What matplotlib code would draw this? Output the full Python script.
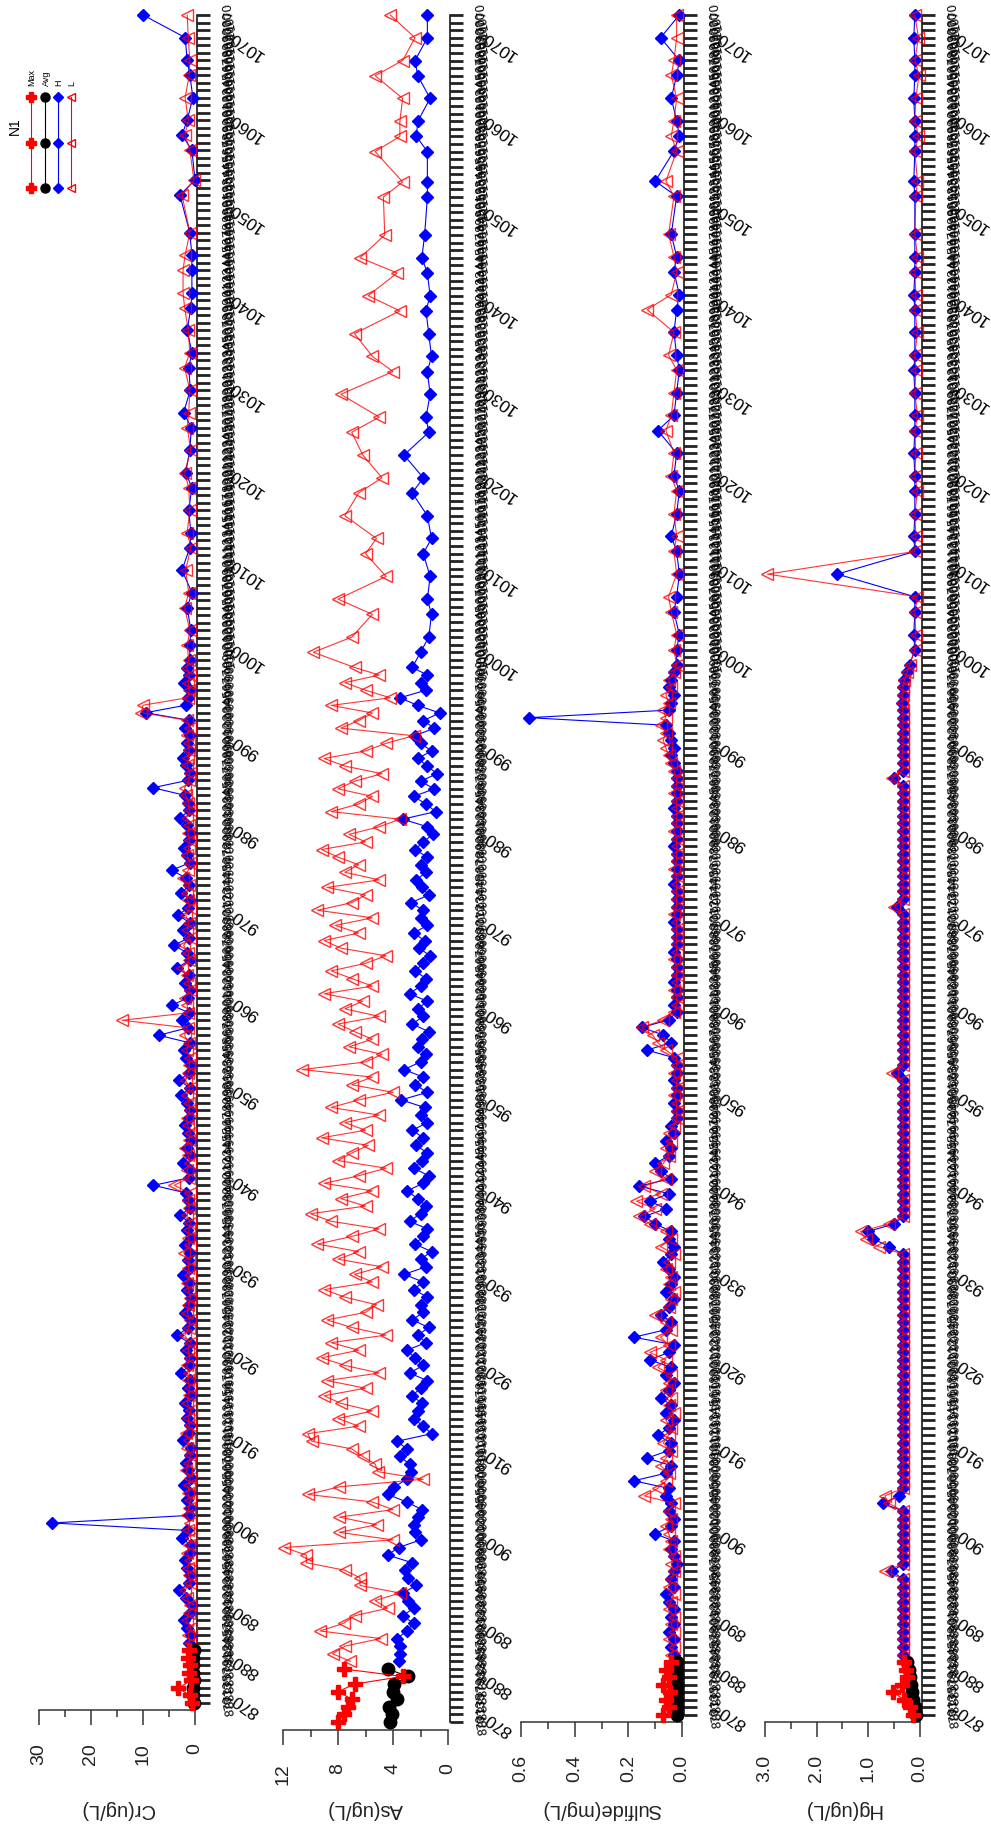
import numpy as np
import matplotlib.pyplot as plt

plt.rcParams['font.family'] = ['Liberation Sans', 'DejaVu Sans']

W, H = 991, 1843
N_TICKS = 226

# sample positions on the tick axis (one tick per sample slot)
first_idx = [0, 1, 2, 3, 4, 5, 6, 7]
dense_idx = list(range(8, 140))
sparse_idx = [141, 143, 146, 148, 151, 154, 156, 159, 162, 164, 167, 170, 172, 175, 178, 180,
              183, 186, 188, 191, 193, 196, 201, 203, 207, 209, 211, 214, 217, 219, 222, 225]
idx = dense_idx + sparse_idx

# ---- Cr (ug/L)
cr_max = [0.6, 1.0, 3.2, 0.8, 1.2, 0.9, 1.4, 1.1]
cr_avg = [0.2, 0.3, 0.3, 0.2, 0.4, 0.3, 0.3, 0.2]
cr_h = [1.2, 0.8, 1.5, 2.2, 1.0, 0.6, 1.8, 3.0, 1.2, 0.9, 1.5, 2.0,
        1.0, 0.8, 2.5, 1.5, 27.5, 1.2, 0.9, 1.6, 1.0, 2.2, 0.8, 1.3,
        1.8, 1.0, 0.7, 2.4, 1.2, 0.9, 1.5, 1.1, 2.0, 0.8, 1.4, 1.0,
        2.6, 1.2, 0.9, 1.7, 1.0, 3.5, 1.3, 0.8, 1.9, 1.1, 0.7, 1.6,
        1.2, 2.3, 0.9, 1.4, 1.0, 2.0, 0.8, 1.5, 1.1, 2.8, 1.0, 1.3,
        1.8, 8.0, 1.2, 0.9, 2.4, 1.0, 1.6, 0.8, 1.3, 2.0, 1.1, 0.9,
        1.5, 2.6, 1.0, 3.0, 1.2, 0.8, 1.7, 2.2, 1.0, 7.0, 1.4, 2.5,
        1.1, 4.5, 1.3, 0.9, 2.0, 1.2, 3.5, 1.0, 1.6, 4.0, 1.2, 2.4,
        1.0, 3.2, 1.4, 0.9, 2.6, 1.1, 1.8, 4.5, 1.0, 1.5, 2.2, 1.2,
        0.9, 1.6, 2.8, 1.1, 1.4, 2.0, 8.1, 1.3, 1.0, 1.8, 2.4, 1.2,
        1.5, 1.0, 2.0, 1.2, 9.5, 1.8, 1.3, 0.9, 2.2, 1.1, 1.6, 1.0,
        1.0, 0.8, 1.5, 0.6, 2.5, 1.0, 0.8, 1.2, 0.6, 1.8, 1.0, 0.7, 2.2, 0.9, 1.2, 0.6,
        1.5, 0.8, 0.6, 0.6, 0.6, 1.0, 2.9, 0.0, 0.6, 2.5, 1.5, 0.4, 1.0, 1.5, 1.9, 10.0]
cr_l = [1.0, 1.3, 0.8, 1.6, 1.2, 1.0, 1.5, 2.0, 0.9, 1.2, 1.4, 1.0,
        1.5, 1.1, 0.8, 1.3, 1.0, 1.6, 1.2, 0.9, 1.4, 1.1, 1.0, 1.7,
        1.2, 0.9, 1.5, 1.1, 1.8, 1.0, 1.3, 0.8, 1.5, 1.2, 1.0, 1.4,
        1.1, 1.6, 1.0, 1.3, 0.9, 2.0, 1.2, 1.0, 1.5, 1.3, 0.9, 1.2,
        1.6, 1.0, 1.3, 1.1, 2.2, 1.0, 1.4, 1.2, 0.9, 1.5, 1.1, 1.3,
        1.0, 4.0, 1.2, 1.5, 1.0, 1.3, 2.0, 1.1, 0.9, 1.4, 1.6, 1.0,
        1.2, 1.5, 1.0, 1.8, 1.3, 1.1, 1.0, 1.6, 1.2, 2.0, 1.4, 14.0,
        1.3, 1.5, 2.0, 1.0, 1.2, 1.6, 2.5, 1.1, 1.3, 2.2, 1.0, 1.5,
        1.2, 1.8, 1.0, 1.4, 1.6, 1.1, 2.4, 1.3, 1.0, 1.5, 1.2, 1.0,
        1.4, 1.1, 1.6, 1.0, 1.3, 1.8, 2.0, 1.2, 1.0, 1.5, 1.3, 1.1,
        1.2, 1.6, 1.0, 1.5, 10.3, 10.0, 1.4, 1.1, 1.3, 1.0, 1.6, 1.2,
        1.5, 1.0, 2.0, 1.2, 1.8, 0.8, 1.5, 1.0, 1.2, 2.0, 0.8, 1.5, 1.2, 1.0, 2.0, 1.0,
        1.3, 2.0, 2.3, 2.3, 1.9, 1.0, 2.5, 0.2, 1.0, 1.9, 1.3, 1.9, 1.1, 1.0, 1.3, 1.5]

# ---- As (ug/L)
as_max = [8.0, 7.6, 7.3, 7.0, 8.0, 6.8, 3.3, 7.6]
as_avg = [4.2, 4.1, 4.3, 3.7, 4.0, 3.9, 2.9, 4.4]
as_h = [3.6, 3.5, 3.5, 3.7, 3.0, 2.5, 3.3, 2.5, 2.9, 3.3, 2.3, 2.9,
        3.1, 2.6, 4.4, 3.6, 2.0, 2.4, 2.5, 2.2, 1.9, 3.0, 4.4, 3.9,
        3.0, 2.7, 2.8, 3.5, 3.0, 3.7, 1.2, 1.8, 2.5, 2.2, 1.9, 2.6,
        2.0, 1.5, 2.8, 1.8, 2.4, 3.0, 1.6, 2.2, 1.4, 2.6, 1.8, 2.0,
        1.5, 2.5, 1.8, 3.2, 1.6, 2.0, 1.2, 2.4, 1.8, 1.5, 2.8, 2.0,
        1.6, 2.2, 3.0, 1.8, 1.4, 2.5, 1.9, 1.5, 2.3, 1.8, 2.6, 1.5,
        2.0, 1.7, 3.4, 1.5, 2.4, 1.8, 3.2, 2.0, 1.6, 2.2, 1.9, 1.4,
        2.6, 1.8, 2.2, 1.5, 2.8, 2.0, 1.6, 2.4, 1.8, 1.3, 2.1, 1.7,
        2.5, 1.5, 2.0, 1.8, 2.7, 1.4, 1.9, 2.3, 1.6, 2.0, 1.5, 2.4,
        1.8, 1.1, 1.5, 3.3, 0.9, 1.6, 2.5, 1.0, 2.0, 0.8, 1.5, 2.2,
        1.2, 2.0, 2.4, 1.0, 1.8, 0.6, 2.2, 3.5, 1.6, 2.0, 1.5, 2.6,
        2.0, 1.4, 1.2, 1.5, 1.3, 1.8, 1.2, 1.5, 2.6, 1.8, 3.2, 1.4, 1.6, 1.3, 1.5, 1.2,
        1.4, 1.6, 1.3, 1.5, 1.9, 1.7, 1.5, 1.5, 1.5, 2.3, 2.2, 1.3, 2.2, 2.4, 1.5, 1.5]
as_l = [7.1, 8.4, 7.5, 4.9, 9.3, 7.6, 6.8, 4.4, 5.3, 3.5, 6.4, 6.4,
        7.5, 10.3, 10.3, 11.9, 4.0, 7.9, 5.2, 7.9, 4.0, 5.5, 10.2, 7.9,
        1.8, 5.1, 5.3, 6.2, 7.0, 9.9, 10.2, 6.5, 8.0, 5.5, 7.8, 9.0,
        6.0, 8.8, 5.0, 7.5, 9.2, 6.5, 8.5, 4.5, 7.0, 8.8, 6.0, 5.2,
        7.5, 9.0, 5.5, 6.8, 4.8, 8.0, 6.5, 9.5, 7.0, 5.0, 8.5, 10.0,
        6.0, 7.8, 5.5, 9.0, 6.5, 4.5, 8.0, 7.0, 5.8, 9.2, 6.0, 7.5,
        5.0, 8.5, 6.5, 4.0, 7.0, 5.5, 10.6, 6.0, 4.8, 7.2, 5.5, 6.8,
        8.0, 5.0, 7.5, 6.2, 9.0, 5.5, 7.0, 8.5, 6.0, 4.5, 7.8, 9.0,
        6.5, 8.2, 5.5, 9.5, 7.0, 6.0, 8.8, 5.0, 7.5, 6.5, 8.0, 9.2,
        6.0, 7.2, 5.0, 3.5, 8.5, 6.5, 5.5, 8.0, 6.8, 4.8, 7.5, 9.0,
        6.0, 4.5, 2.5, 7.8, 6.5, 5.5, 8.5, 4.2, 6.0, 7.5, 5.0, 6.8,
        9.8, 7.0, 5.5, 8.0, 4.5, 6.0, 5.2, 7.5, 6.5, 4.8, 6.2, 7.0, 5.0, 7.8, 4.0, 5.5,
        6.8, 3.5, 5.8, 3.7, 6.4, 4.6, 4.7, 3.3, 5.3, 3.5, 3.5, 3.3, 5.3, 3.3, 2.4, 4.2]

# ---- Sulfide (mg/L)
su_max = [0.07, 0.05, 0.06, 0.045, 0.07, 0.05, 0.06, 0.04]
su_avg = [0.02, 0.02, 0.02, 0.02, 0.02, 0.02, 0.02, 0.02]
su_h = [0.03, 0.04, 0.03, 0.05, 0.03, 0.04, 0.03, 0.05, 0.06, 0.03, 0.04, 0.03,
        0.02, 0.03, 0.04, 0.03, 0.10, 0.04, 0.03, 0.05, 0.04, 0.06, 0.05, 0.18,
        0.06, 0.04, 0.13, 0.05, 0.04, 0.09, 0.05, 0.03, 0.06, 0.04, 0.08, 0.05,
        0.03, 0.06, 0.04, 0.12, 0.05, 0.03, 0.18, 0.06, 0.04, 0.08, 0.05, 0.03,
        0.06, 0.04, 0.03, 0.05, 0.07, 0.04, 0.03, 0.05, 0.04, 0.10, 0.14, 0.06,
        0.12, 0.05, 0.16, 0.04, 0.08, 0.10, 0.05, 0.04, 0.06, 0.03, 0.04, 0.02,
        0.02, 0.03, 0.02, 0.02, 0.03, 0.02, 0.02, 0.03, 0.13, 0.04, 0.07, 0.15,
        0.05, 0.02, 0.03, 0.02, 0.02, 0.03, 0.02, 0.02, 0.02, 0.03, 0.02, 0.02,
        0.02, 0.03, 0.02, 0.02, 0.02, 0.02, 0.03, 0.02, 0.02, 0.02, 0.02, 0.03,
        0.02, 0.02, 0.02, 0.02, 0.03, 0.02, 0.02, 0.02, 0.02, 0.02, 0.03, 0.04,
        0.03, 0.04, 0.05, 0.06, 0.57, 0.05, 0.04, 0.03, 0.05, 0.04, 0.03, 0.02,
        0.02, 0.01, 0.03, 0.02, 0.01, 0.02, 0.04, 0.02, 0.01, 0.03, 0.02, 0.09, 0.03, 0.02, 0.01, 0.02,
        0.03, 0.02, 0.01, 0.03, 0.02, 0.04, 0.02, 0.10, 0.03, 0.01, 0.02, 0.04, 0.02, 0.01, 0.08, 0.01]
su_l = [0.04, 0.03, 0.05, 0.03, 0.04, 0.03, 0.05, 0.04, 0.03, 0.05, 0.04, 0.03,
        0.04, 0.03, 0.05, 0.04, 0.05, 0.06, 0.04, 0.05, 0.03, 0.14, 0.09, 0.06,
        0.05, 0.08, 0.06, 0.04, 0.07, 0.05, 0.04, 0.06, 0.03, 0.05, 0.04, 0.06,
        0.05, 0.04, 0.09, 0.06, 0.12, 0.05, 0.08, 0.04, 0.06, 0.10, 0.05, 0.04,
        0.03, 0.05, 0.04, 0.06, 0.05, 0.03, 0.08, 0.04, 0.06, 0.12, 0.16, 0.10,
        0.17, 0.08, 0.14, 0.06, 0.10, 0.07, 0.05, 0.06, 0.04, 0.05, 0.03, 0.02,
        0.02, 0.02, 0.03, 0.02, 0.02, 0.03, 0.02, 0.02, 0.06, 0.09, 0.11, 0.15,
        0.07, 0.03, 0.02, 0.02, 0.03, 0.02, 0.02, 0.02, 0.03, 0.02, 0.02, 0.02,
        0.02, 0.02, 0.03, 0.02, 0.02, 0.02, 0.02, 0.02, 0.03, 0.02, 0.02, 0.02,
        0.02, 0.03, 0.02, 0.02, 0.02, 0.02, 0.03, 0.02, 0.02, 0.03, 0.04, 0.05,
        0.06, 0.07, 0.06, 0.08, 0.06, 0.07, 0.05, 0.06, 0.04, 0.05, 0.03, 0.02,
        0.03, 0.02, 0.04, 0.05, 0.02, 0.03, 0.02, 0.03, 0.02, 0.04, 0.03, 0.06, 0.04, 0.03, 0.02, 0.05,
        0.03, 0.13, 0.04, 0.02, 0.03, 0.05, 0.03, 0.06, 0.02, 0.04, 0.03, 0.02, 0.04, 0.03, 0.02, 0.02]

# ---- Hg (ug/L)
hg_max = [0.13, 0.2, 0.3, 0.52, 0.35, 0.25, 0.28, 0.3]
hg_avg = [0.08, 0.1, 0.13, 0.15, 0.18, 0.2, 0.22, 0.25]
hg_h = [0.33, 0.33, 0.33, 0.33, 0.33, 0.33, 0.33, 0.33, 0.33, 0.33, 0.33, 0.54,
        0.33, 0.33, 0.33, 0.33, 0.33, 0.33, 0.33, 0.33, 0.72, 0.40, 0.33, 0.33,
        0.33, 0.33, 0.33, 0.33, 0.33, 0.33, 0.33, 0.33, 0.33, 0.33, 0.33, 0.33,
        0.33, 0.33, 0.33, 0.33, 0.33, 0.33, 0.33, 0.33, 0.33, 0.33, 0.33, 0.33,
        0.33, 0.33, 0.33, 0.33, 0.33, 0.33, 0.60, 0.90, 1.00, 0.50, 0.33, 0.33,
        0.33, 0.33, 0.33, 0.33, 0.33, 0.33, 0.33, 0.33, 0.33, 0.33, 0.33, 0.33,
        0.33, 0.33, 0.33, 0.33, 0.33, 0.45, 0.33, 0.33, 0.33, 0.33, 0.33, 0.33,
        0.33, 0.33, 0.33, 0.33, 0.33, 0.33, 0.33, 0.33, 0.33, 0.33, 0.33, 0.33,
        0.33, 0.33, 0.33, 0.45, 0.33, 0.33, 0.33, 0.33, 0.33, 0.33, 0.33, 0.33,
        0.33, 0.33, 0.33, 0.33, 0.33, 0.33, 0.33, 0.33, 0.50, 0.33, 0.33, 0.33,
        0.33, 0.33, 0.33, 0.33, 0.33, 0.33, 0.35, 0.33, 0.33, 0.30, 0.25, 0.20,
        0.10, 0.12, 0.10, 0.10, 1.60, 0.10, 0.12, 0.10, 0.10, 0.10, 0.12, 0.10, 0.10, 0.10, 0.12, 0.10,
        0.10, 0.10, 0.12, 0.10, 0.10, 0.10, 0.10, 0.12, 0.10, 0.10, 0.10, 0.12, 0.10, 0.10, 0.12, 0.10]
hg_l = [0.33, 0.33, 0.33, 0.33, 0.33, 0.33, 0.33, 0.33, 0.33, 0.33, 0.33, 0.68,
        0.33, 0.33, 0.33, 0.33, 0.33, 0.33, 0.33, 0.33, 0.60, 0.68, 0.33, 0.33,
        0.33, 0.33, 0.33, 0.33, 0.33, 0.33, 0.33, 0.33, 0.33, 0.33, 0.33, 0.33,
        0.33, 0.33, 0.33, 0.33, 0.33, 0.33, 0.33, 0.33, 0.33, 0.33, 0.33, 0.33,
        0.33, 0.33, 0.33, 0.33, 0.33, 0.33, 0.80, 1.05, 1.15, 0.60, 0.33, 0.33,
        0.33, 0.33, 0.33, 0.33, 0.33, 0.33, 0.33, 0.33, 0.33, 0.33, 0.33, 0.33,
        0.33, 0.33, 0.33, 0.33, 0.33, 0.55, 0.33, 0.33, 0.33, 0.33, 0.33, 0.33,
        0.33, 0.33, 0.33, 0.33, 0.33, 0.33, 0.33, 0.33, 0.33, 0.33, 0.33, 0.33,
        0.33, 0.33, 0.33, 0.50, 0.33, 0.33, 0.33, 0.33, 0.33, 0.33, 0.33, 0.33,
        0.33, 0.33, 0.33, 0.33, 0.33, 0.33, 0.33, 0.33, 0.55, 0.33, 0.33, 0.33,
        0.33, 0.33, 0.33, 0.33, 0.33, 0.33, 0.35, 0.33, 0.33, 0.30, 0.25, 0.20,
        0.10, 0.08, 0.10, 0.05, 2.95, 0.10, 0.08, 0.10, 0.05, 0.10, 0.08, 0.10, 0.05, 0.10, 0.08, 0.10,
        0.05, 0.10, 0.08, 0.10, 0.05, 0.10, 0.08, 0.05, 0.10, 0.03, 0.10, 0.08, 0.02, 0.10, 0.03, 0.10]

# readable labels on the sample axis, at their tick positions
major_pos = [0.4, 5.5, 12.2, 23.8, 35.1, 46.3, 57.9, 69.5, 81.7, 93.3, 104.9, 116.5, 128.0,
             140.2, 151.3, 163.4, 175.0, 186.6, 198.7, 210.7, 221.6]
major_lab = ['870', '880', '890', '900', '910', '920', '930', '940', '950', '960', '970',
             '980', '990', '1000', '1010', '1020', '1030', '1040', '1050', '1060', '1070']

panels = [
    # y label, zero px, px per unit, vmax, ticks, labelled ticks, fmt, axis y px, first tick y px
    ('Cr(ug/L)', 195, 5.2, 30, [0, 5, 10, 15, 20, 25, 30], [0, 10, 20, 30], '{:.0f}', 1710, 1703,
     cr_max, cr_avg, cr_h, cr_l),
    ('As(ug/L)', 448, 13.75, 12, [0, 2, 4, 6, 8, 10, 12], [0, 4, 8, 12], '{:.0f}', 1730, 1722,
     as_max, as_avg, as_h, as_l),
    ('Sulfide(mg/L)', 682, 268.0, 0.6, [0, 0.1, 0.2, 0.3, 0.4, 0.5, 0.6], [0, 0.2, 0.4, 0.6],
     '{:.1f}', 1722, 1715, su_max, su_avg, su_h, su_l),
    ('Hg(ug/L)', 920, 51.7, 3.0, [0, 0.5, 1.0, 1.5, 2.0, 2.5, 3.0], [0, 1, 2, 3], '{:.1f}', 1722, 1715,
     hg_max, hg_avg, hg_h, hg_l),
]

fig = plt.figure(figsize=(W / 100, H / 100), dpi=100)
top_y = 15
tick_lab = [str(int(round(v))) for v in np.interp(np.arange(N_TICKS), major_pos,
                                                   [int(s) for s in major_lab])]

for ylab, x0, sc, vmax, ticks, labticks, fmt, axis_y, y0, vmx, vav, vh, vl in panels:
    left_px = x0 - vmax * sc - 6
    right_px = x0 + 2
    top_px = 8
    ax = fig.add_axes([left_px / W, 1 - axis_y / H, (right_px - left_px) / W, (axis_y - top_px) / H])
    step = (y0 - top_y) / (N_TICKS - 1)
    ax.set_ylim(-(axis_y - y0) / step, N_TICKS - 1 + (top_y - top_px) / step)
    ax.set_xlim((x0 - left_px) / sc, -(right_px - x0) / sc)
    ax.patch.set_alpha(0)

    ax.plot(vh, idx, color='#0000ff', lw=0.8, marker='D', ms=6.5, mfc='#0000ff', mec='#0000ff',
            mew=1.0, clip_on=False, zorder=3)
    ax.plot(vl, idx, color='#ff0000', lw=0.8, marker='<', ms=8.5, mfc='none', mec='#ff0000',
            mew=1.0, alpha=0.8, clip_on=False, zorder=4)
    ax.plot(vav, first_idx, color='black', lw=0.8, marker='o', ms=9, clip_on=False, zorder=5)
    ax.plot(vmx, first_idx, color='#ff0000', lw=0.8, marker='P', ms=10, mec='#ff0000',
            clip_on=False, zorder=6)

    for s in ['top', 'left']:
        ax.spines[s].set_visible(False)
    ax.spines['bottom'].set_bounds(0, vmax)
    ax.spines['right'].set_bounds(0, N_TICKS - 1)
    ax.spines['bottom'].set_linewidth(1.1)
    ax.spines['bottom'].set_color('#333333')
    ax.spines['right'].set_linewidth(1.1)

    ax.set_xticks(ticks)
    ax.set_xticklabels([])
    ax.tick_params(axis='x', direction='out', width=1.1, color='#333333', length=5)
    for t, tk in zip(ticks, ax.xaxis.get_major_ticks()):
        if t in labticks:
            tk.tick1line.set_markersize(10.5)
    for t in labticks:
        fig.text((x0 - t * sc) / W, 1 - (axis_y + 33) / H, fmt.format(t), rotation=90,
                 fontsize=14, ha='center', va='top', color='#222222')
    fig.text((x0 - vmax * sc / 2) / W, 1 - 1809 / H, ylab, rotation=180, fontsize=14.5,
             ha='center', va='center', color='#222222')

    ax.yaxis.tick_right()
    ax.set_yticks(np.arange(N_TICKS))
    ax.set_yticklabels([])
    ax.tick_params(axis='y', direction='out', length=9.5, width=2.0, color='#222222')

    # crowded per-sample labels, then the readable ones
    for i, lab in enumerate(tick_lab):
        ax.annotate(lab, xy=(1, i), xycoords=('axes fraction', 'data'),
                    xytext=(33, -2), textcoords='offset pixels', rotation=100, fontsize=9,
                    ha='center', va='center', annotation_clip=False)
    for p, lab in zip(major_pos, major_lab):
        ax.annotate(lab, xy=(1, p), xycoords=('axes fraction', 'data'),
                    xytext=(49, -5), textcoords='offset pixels', rotation=145, fontsize=12.5,
                    ha='center', va='center', annotation_clip=False)

# legend
lax = fig.add_axes([0, 0, 1, 1])
lax.set_xlim(0, W)
lax.set_ylim(H, 0)
lax.axis('off')
leg_x = [31, 45, 58, 71]
leg_col = ['#ff0000', 'black', '#0000ff', '#ff0000']
leg_mk = ['P', 'o', 'D', '<']
leg_name = ['Max', 'Avg', 'H', 'L']
for x, c, m, nm in zip(leg_x, leg_col, leg_mk, leg_name):
    lax.plot([x, x, x], [97, 143, 188], color=c, lw=0.8, marker=m,
             ms={'P': 7, 'o': 6.5, 'D': 5, '<': 6}[m],
             mfc='none' if m == '<' else c, mec=c)
    lax.text(x + 1, 86, nm, rotation=90, fontsize=6.5, ha='center', va='bottom')
lax.text(15, 126, 'N1', rotation=90, fontsize=10, ha='center', va='center')

fig.savefig('out.png', dpi=100)
